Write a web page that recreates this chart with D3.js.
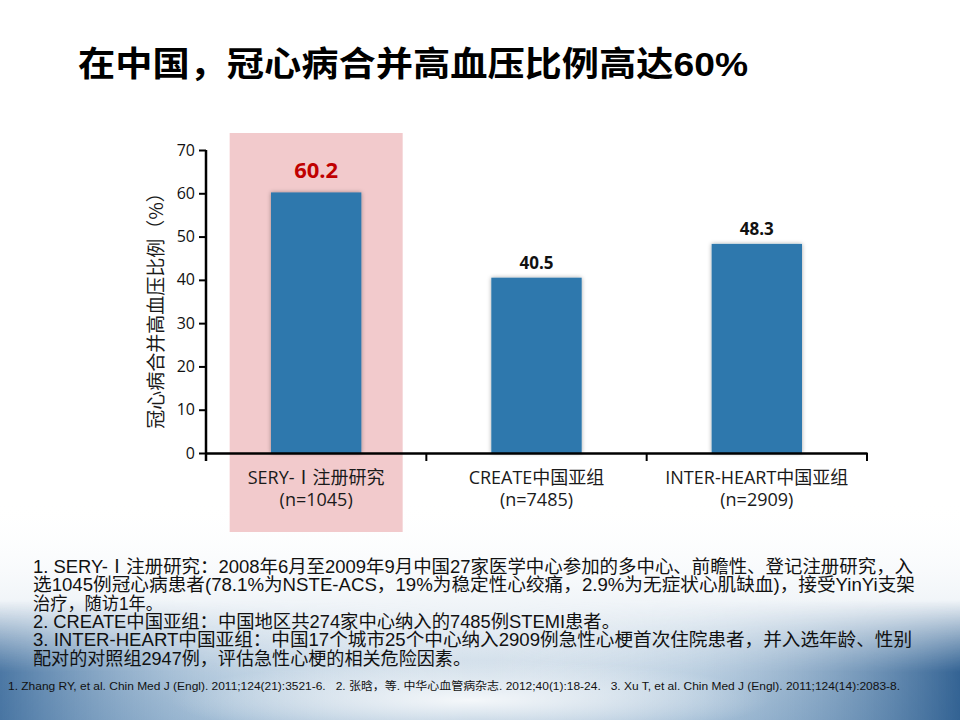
<!DOCTYPE html>
<html>
<head>
<meta charset="utf-8">
<script src="https://cdn.jsdelivr.net/npm/d3@7"></script>
<style>
  body { margin: 0; background: #fff; }
  svg { display: block; }
</style>
</head>
<body>
<script>
// chart data
var categories = ["SERY-Ⅰ注册研究", "CREATE中国亚组", "INTER-HEART中国亚组"];
var sampleSizes = ["(n=1045)", "(n=7485)", "(n=2909)"];
var values = [60.2, 40.5, 48.3];
var yTicks = [0, 10, 20, 30, 40, 50, 60, 70];

var title = "在中国，冠心病合并高血压比例高达60%";
var yLabel = "冠心病合并高血压比例（%）";
var notes = [
  "1. SERY-Ⅰ注册研究：2008年6月至2009年9月中国27家医学中心参加的多中心、前瞻性、登记注册研究，入",
  "选1045例冠心病患者(78.1%为NSTE-ACS，19%为稳定性心绞痛，2.9%为无症状心肌缺血)，接受YinYi支架",
  "治疗，随访1年。",
  "2. CREATE中国亚组：中国地区共274家中心纳入的7485例STEMI患者。",
  "3. INTER-HEART中国亚组：中国17个城市25个中心纳入2909例急性心梗首次住院患者，并入选年龄、性别",
  "配对的对照组2947例，评估急性心梗的相关危险因素。"
];
var noteWidths = [880, 882, 130, 587, 879, 438];
var refs = "1. Zhang RY, et al. Chin Med J (Engl). 2011;124(21):3521-6.   2. 张晗，等. 中华心血管病杂志. 2012;40(1):18-24.   3. Xu T, et al. Chin Med J (Engl). 2011;124(14):2083-8.";

var W = 960, H = 720;
var margin = {top: 150, left: 206, right: 93, bottom: 267};

var svg = d3.select("body").append("svg")
  .attr("width", W)
  .attr("height", H);

var defs = svg.append("defs");

//background ====================================
var bottomGrad = defs.append("linearGradient")
  .attr("id", "bottomGrad").attr("x1", 0).attr("y1", 0).attr("x2", 0).attr("y2", 1);
bottomGrad.append("stop").attr("offset", "0%").attr("stop-color", "#ffffff").attr("stop-opacity", 0);
bottomGrad.append("stop").attr("offset", "50%").attr("stop-color", "#e3ebf2").attr("stop-opacity", 0.6);
bottomGrad.append("stop").attr("offset", "100%").attr("stop-color", "#a9c2d8").attr("stop-opacity", 1);

var sideGrad = defs.append("linearGradient")
  .attr("id", "sideGrad").attr("x1", 0).attr("y1", 0).attr("x2", 1).attr("y2", 0);
sideGrad.append("stop").attr("offset", "0%").attr("stop-color", "#3d6c9c").attr("stop-opacity", 0.9);
sideGrad.append("stop").attr("offset", "25%").attr("stop-color", "#9fbcd6").attr("stop-opacity", 0.35);
sideGrad.append("stop").attr("offset", "50%").attr("stop-color", "#ffffff").attr("stop-opacity", 0);
sideGrad.append("stop").attr("offset", "72%").attr("stop-color", "#9fbcd6").attr("stop-opacity", 0.35);
sideGrad.append("stop").attr("offset", "100%").attr("stop-color", "#2c5d8f").attr("stop-opacity", 0.95);

var fadeUp = defs.append("linearGradient")
  .attr("id", "fadeUp").attr("x1", 0).attr("y1", 0).attr("x2", 0).attr("y2", 1);
fadeUp.append("stop").attr("offset", "0%").attr("stop-color", "#fff").attr("stop-opacity", 0);
fadeUp.append("stop").attr("offset", "60%").attr("stop-color", "#fff").attr("stop-opacity", 1);
fadeUp.append("stop").attr("offset", "100%").attr("stop-color", "#fff").attr("stop-opacity", 1);
defs.append("mask").attr("id", "sideMask")
  .append("rect").attr("y", 600).attr("width", W).attr("height", 120).attr("fill", "url(#fadeUp)");

var glow = defs.append("radialGradient")
  .attr("id", "glow").attr("cx", 0.5).attr("cy", 0.5).attr("r", 0.5);
glow.append("stop").attr("offset", "0%").attr("stop-color", "#ffffff").attr("stop-opacity", 1);
glow.append("stop").attr("offset", "100%").attr("stop-color", "#ffffff").attr("stop-opacity", 0);

svg.append("rect").attr("width", W).attr("height", H).attr("fill", "#ffffff");
svg.append("rect").attr("y", 500).attr("width", W).attr("height", 220).attr("fill", "url(#bottomGrad)");
svg.append("rect").attr("y", 600).attr("width", W).attr("height", 120)
  .attr("fill", "url(#sideGrad)").attr("mask", "url(#sideMask)");
svg.append("ellipse").attr("cx", 470).attr("cy", 700).attr("rx", 300).attr("ry", 40)
  .attr("fill", "url(#glow)").attr("opacity", 0.85);

//title ====================================
svg.append("text")
  .attr("x", 78)
  .attr("y", 76)
  .attr("font-family", "'Liberation Sans', 'Noto Sans CJK SC', sans-serif")
  .attr("font-weight", "bold")
  .attr("font-size", 34)
  .attr("fill", "#000")
  .attr("textLength", 670)
  .attr("lengthAdjust", "spacingAndGlyphs")
  .text(title);

//scales ====================================
var plotH = H - margin.top - margin.bottom;
var y = d3.scaleLinear().domain([0, 70]).range([margin.top + plotH, margin.top]);
var x = d3.scaleBand()
  .domain(categories)
  .range([margin.left, W - margin.right])
  .paddingInner(0.59)
  .paddingOuter(0.295);

// highlight band behind the first study
var step = x.step();
svg.append("rect")
  .attr("x", x(categories[0]) + x.bandwidth() / 2 - 86.5)
  .attr("y", 133)
  .attr("width", 173)
  .attr("height", 399)
  .attr("fill", "#f2cacc");

// bar shadow
var shadow = defs.append("filter").attr("id", "barShadow")
  .attr("x", "-20%").attr("y", "-10%").attr("width", "140%").attr("height", "120%");
shadow.append("feDropShadow")
  .attr("dx", 0).attr("dy", 0).attr("stdDeviation", 2)
  .attr("flood-color", "#000").attr("flood-opacity", 0.35);

svg.selectAll(".bar")
  .data(values)
  .enter().append("rect")
  .attr("class", "bar")
  .attr("x", function (d, i) { return x(categories[i]); })
  .attr("y", function (d) { return y(d); })
  .attr("width", x.bandwidth())
  .attr("height", function (d) { return y(0) - y(d); })
  .attr("fill", "#2e78ad")
  .attr("filter", "url(#barShadow)");

// value labels
svg.selectAll(".val")
  .data(values)
  .enter().append("text")
  .attr("class", "val")
  .attr("x", function (d, i) { return x(categories[i]) + x.bandwidth() / 2; })
  .attr("y", function (d, i) { return y(d) - (i == 0 ? 14 : 9); })
  .attr("text-anchor", "middle")
  .attr("font-family", "'Open Sans', 'Noto Sans', sans-serif")
  .attr("font-weight", "bold")
  .attr("font-size", function (d, i) { return i == 0 ? 22 : 17; })
  .attr("fill", function (d, i) { return i == 0 ? "#c00000" : "#111"; })
  .text(function (d) { return d.toFixed(1); });

//axes ====================================
var yAxis = svg.append("g")
  .attr("transform", "translate(" + margin.left + ",0)")
  .call(d3.axisLeft(y).tickValues(yTicks).tickSize(7).tickSizeOuter(0).tickPadding(4));
yAxis.select(".domain").attr("stroke", "#000").attr("stroke-width", 2.5)
  .attr("d", "M0," + y(70) + "V" + (y(0) + 8));
yAxis.selectAll(".tick line").attr("stroke", "#000").attr("stroke-width", 2);
yAxis.selectAll(".tick text")
  .attr("font-family", "'Open Sans', 'Noto Sans', sans-serif")
  .attr("font-size", 16)
  .attr("fill", "#111");

var xAxis = svg.append("g")
  .attr("transform", "translate(0," + y(0) + ")")
  .call(d3.axisBottom(x).tickSize(0).tickFormat(""));
xAxis.select(".domain").attr("stroke", "#000").attr("stroke-width", 2.5);
xAxis.selectAll(".tick").remove();

// category boundary ticks
xAxis.selectAll(".bound")
  .data(d3.range(categories.length + 1))
  .enter().append("line")
  .attr("class", "bound")
  .attr("x1", function (i) { return margin.left + i * step; })
  .attr("x2", function (i) { return margin.left + i * step; })
  .attr("y1", 0)
  .attr("y2", 8)
  .attr("stroke", "#000")
  .attr("stroke-width", 2);

var catLabels = svg.selectAll(".cat")
  .data(categories)
  .enter().append("text")
  .attr("class", "cat")
  .attr("text-anchor", "middle")
  .attr("font-family", "'Open Sans', 'Noto Sans CJK SC', sans-serif")
  .attr("font-size", 18)
  .attr("fill", "#1a1a1a");
catLabels.append("tspan")
  .attr("x", function (d) { return x(d) + x.bandwidth() / 2; })
  .attr("y", 484)
  .text(function (d) { return d; });
catLabels.append("tspan")
  .attr("x", function (d) { return x(d) + x.bandwidth() / 2; })
  .attr("y", 506)
  .text(function (d, i) { return sampleSizes[i]; });

// y label
svg.append("text")
  .attr("transform", "translate(163," + 306 + ") rotate(-90)")
  .attr("text-anchor", "middle")
  .attr("font-family", "'Noto Sans CJK SC', sans-serif")
  .attr("font-size", 19)
  .attr("fill", "#1a1a1a")
  .text(yLabel);

//footnotes ====================================
svg.selectAll(".note")
  .data(notes)
  .enter().append("text")
  .attr("class", "note")
  .attr("x", 33)
  .attr("y", function (d, i) { return 573 + i * 18.3; })
  .attr("font-family", "'Liberation Sans', 'Noto Sans CJK SC', sans-serif")
  .attr("font-size", 18)
  .attr("fill", "#111")
  .attr("textLength", function (d, i) { return noteWidths[i]; })
  .attr("lengthAdjust", "spacingAndGlyphs")
  .text(function (d) { return d; });

svg.append("text")
  .attr("x", 8)
  .attr("y", 690)
  .style("white-space", "pre")
  .attr("font-family", "'Liberation Sans', 'Noto Sans CJK SC', sans-serif")
  .attr("font-size", 11.5)
  .attr("fill", "#111")
  .attr("textLength", 892)
  .attr("lengthAdjust", "spacingAndGlyphs")
  .text(refs);
</script>
</body>
</html>
